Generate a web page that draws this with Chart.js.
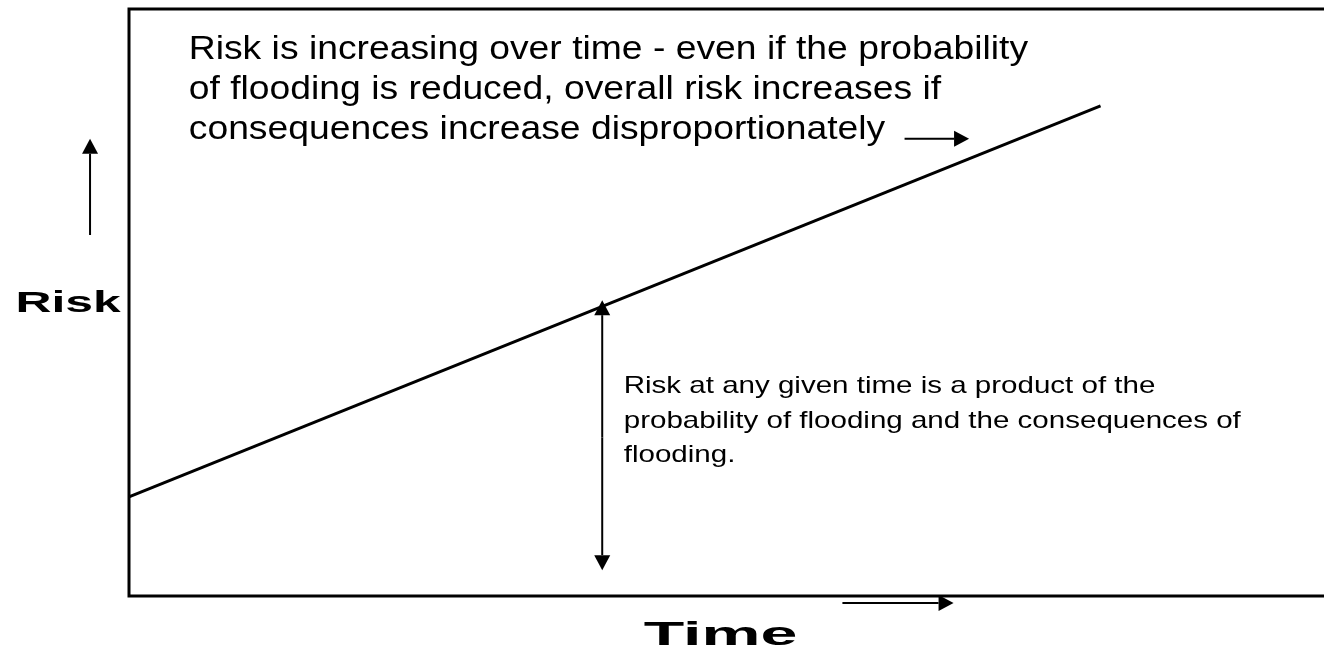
<!DOCTYPE html>
<html>
<head>
<meta charset="utf-8">
<script src="https://cdn.jsdelivr.net/npm/chart.js@4/dist/chart.umd.min.js"></script>
<style>
    html, body { margin: 0; padding: 0; background: #fff; }
    #wrap { width: 1324px; height: 647px; }
</style>
</head>
<body>
<div id="wrap"><canvas id="riskChart" width="1324" height="647"></canvas></div>
<script>
// data, in chart units (time 0-100, risk 0-100)
const riskTime = [0, 81.3];
const riskValue = [16.9, 83.5];

// annotation arrows: [x1, y1, x2, y2], head at the second point
const arrowUpRisk = [-3.26, 61.5, -3.26, 77.9];
const arrowTime = [59.7, -1.2, 69.0, -1.2];
const arrowNote = [64.9, 77.9, 70.3, 77.9];
const arrowSpanUp = [39.6, 27.0, 39.6, 50.4];
const arrowSpanDown = [39.6, 27.0, 39.6, 4.4];

const topNote = [
    'Risk is increasing over time - even if the probability',
    'of flooding is reduced, overall risk increases if',
    'consequences increase disproportionately'
];
const midNote = [
    'Risk at any given time is a product of the',
    'probability of flooding and the consequences of',
    'flooding.'
];
const yLabel = 'Risk';
const xLabel = 'Time';

const FONT = "Arial, 'Liberation Sans', sans-serif";

// where and how the texts go (x, first baseline y in chart units)
const textBlocks = [
    { lines: topNote, x: 5.0, y: 91.5, step: 6.8, font: '33px ' + FONT, stretch: 1.13, align: 'left' },
    { lines: midNote, x: 41.4, y: 34.5, step: 5.8, font: '24px ' + FONT, stretch: 1.23, align: 'left' },
    { lines: [yLabel], x: -9.5, y: 48.4, step: 0, font: 'bold 29px ' + FONT, stretch: 1.72, align: 'left' },
    { lines: [xLabel], x: 49.5, y: -8.4, step: 0, font: 'bold 34px ' + FONT, stretch: 1.95, align: 'center' }
];

function drawArrow(ctx, sx, sy, a) {
    const x1 = sx.getPixelForValue(a[0]), y1 = sy.getPixelForValue(a[1]);
    const x2 = sx.getPixelForValue(a[2]), y2 = sy.getPixelForValue(a[3]);
    const ang = Math.atan2(y2 - y1, x2 - x1);
    const len = 15, half = 8;
    const bx = x2 - len * Math.cos(ang), by = y2 - len * Math.sin(ang);
    ctx.beginPath();
    ctx.moveTo(x1, y1);
    ctx.lineTo(bx, by);
    ctx.stroke();
    ctx.beginPath();
    ctx.moveTo(x2, y2);
    ctx.lineTo(bx + half * Math.sin(ang), by - half * Math.cos(ang));
    ctx.lineTo(bx - half * Math.sin(ang), by + half * Math.cos(ang));
    ctx.closePath();
    ctx.fill();
}

const annotations = {
    id: 'annotations',
    beforeDatasetsDraw(chart) {
        const ctx = chart.ctx, a = chart.chartArea;
        ctx.save();
        ctx.strokeStyle = '#000';
        ctx.lineWidth = 3;
        ctx.beginPath();
        ctx.moveTo(chart.width, a.top);
        ctx.lineTo(a.left, a.top);
        ctx.lineTo(a.left, a.bottom);
        ctx.lineTo(chart.width, a.bottom);
        ctx.stroke();
        ctx.restore();
    },
    afterDraw(chart) {
        const ctx = chart.ctx;
        const sx = chart.scales.x, sy = chart.scales.y;
        ctx.save();
        ctx.strokeStyle = '#000';
        ctx.fillStyle = '#000';
        ctx.lineWidth = 2;
        [arrowUpRisk, arrowTime, arrowNote, arrowSpanUp, arrowSpanDown].forEach(ar => drawArrow(ctx, sx, sy, ar));

        ctx.textBaseline = 'alphabetic';
        textBlocks.forEach(b => {
            ctx.font = b.font;
            b.lines.forEach((line, i) => {
                const px = sx.getPixelForValue(b.x);
                const py = sy.getPixelForValue(b.y - i * b.step);
                ctx.save();
                ctx.translate(px, py);
                ctx.scale(b.stretch, 1);
                ctx.textAlign = b.align;
                ctx.fillText(line, 0, 0);
                ctx.restore();
            });
        });
        ctx.restore();
    }
};

new Chart(document.getElementById('riskChart').getContext('2d'), {
    type: 'line',
    data: {
        datasets: [{
            data: riskTime.map((t, i) => ({ x: t, y: riskValue[i] })),
            borderColor: '#000',
            borderWidth: 3,
            pointRadius: 0,
            fill: false,
            clip: false
        }]
    },
    options: {
        responsive: false,
        animation: false,
        layout: { padding: { left: 129, top: 9, right: 0, bottom: 51 } },
        scales: {
            x: { type: 'linear', min: 0, max: 100, display: false },
            y: { type: 'linear', min: 0, max: 100, display: false }
        },
        plugins: {
            legend: { display: false },
            tooltip: { enabled: false }
        }
    },
    plugins: [annotations]
});
</script>
</body>
</html>
